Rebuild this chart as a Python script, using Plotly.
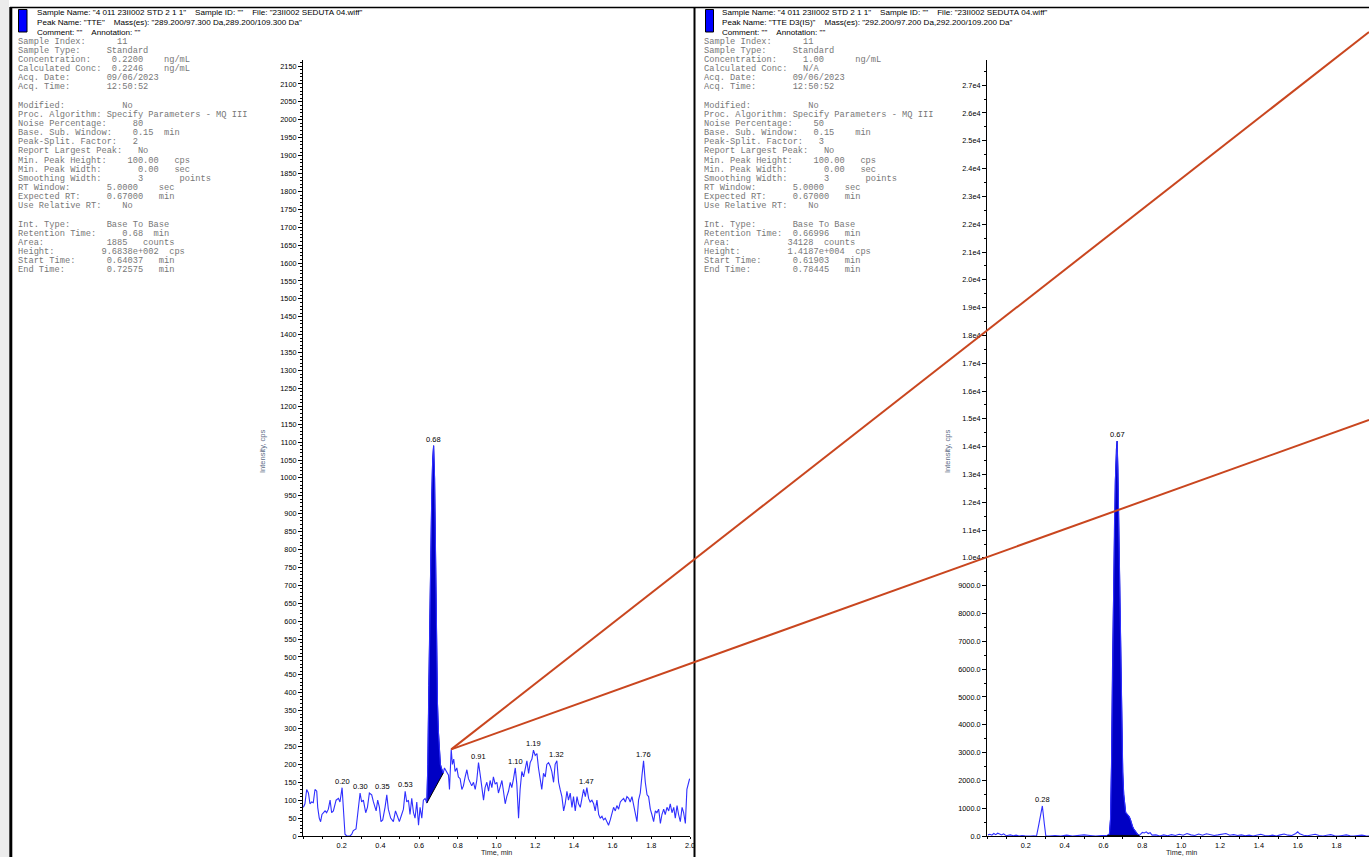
import plotly.graph_objects as go

W, H = 1369, 857

# ---------------- TTE  (289.200/97.300 Da) ----------------
tte_pre_time = [0.002, 0.010, 0.019, 0.028, 0.036, 0.045, 0.053, 0.062, 0.071, 0.076,
                0.084, 0.091, 0.098, 0.105, 0.114, 0.122, 0.131, 0.140, 0.148, 0.157,
                0.171, 0.183, 0.191, 0.202, 0.209, 0.217, 0.226, 0.243, 0.252, 0.260,
                0.274, 0.286, 0.295, 0.303, 0.312, 0.324, 0.333, 0.343, 0.355, 0.364,
                0.378, 0.386, 0.395, 0.403, 0.412, 0.424, 0.433, 0.441, 0.453, 0.467,
                0.478, 0.488, 0.498, 0.510, 0.519, 0.528, 0.536, 0.545, 0.553, 0.562,
                0.571, 0.579, 0.588, 0.597, 0.605, 0.614, 0.622, 0.631]
tte_pre_cps = [80, 90, 130, 120, 90, 95, 93, 130, 125, 80,
               50, 40, 60, 65, 70, 65, 75, 100, 65, 70,
               100, 105, 95, 135, 80, 5, 0, 0, 5, 15,
               20, 80, 120, 95, 100, 65, 80, 120, 115, 95,
               70, 100, 80, 40, 45, 80, 115, 75, 50, 40,
               70, 55, 40, 60, 75, 125, 95, 100, 60, 105,
               65, 50, 95, 30, 80, 50, 100, 105]

tte_peak_time = [0.640, 0.645, 0.650, 0.655, 0.660, 0.665, 0.670, 0.675, 0.680,
                 0.685, 0.690, 0.695, 0.700, 0.705, 0.710, 0.715, 0.720, 0.725]
tte_peak_cps = [92, 200, 420, 640, 800, 940, 1050, 1090, 1000,
                760, 540, 370, 290, 240, 200, 190, 180, 176]

tte_post_time = [0.731, 0.743, 0.752, 0.757, 0.766, 0.772, 0.779, 0.786, 0.795, 0.803,
                 0.812, 0.821, 0.829, 0.838, 0.847, 0.855, 0.864, 0.872, 0.881, 0.890,
                 0.898, 0.907, 0.916, 0.924, 0.933, 0.941, 0.950, 0.959, 0.967, 0.976,
                 0.984, 0.993, 1.002, 1.010, 1.019, 1.028, 1.036, 1.045, 1.053, 1.062,
                 1.071, 1.079, 1.088, 1.097, 1.105, 1.114, 1.122, 1.131, 1.140, 1.148,
                 1.157, 1.166, 1.174, 1.183, 1.191, 1.200, 1.209, 1.217, 1.226, 1.234,
                 1.243, 1.252, 1.260, 1.269, 1.278, 1.286, 1.295, 1.303, 1.312, 1.321,
                 1.329, 1.338, 1.347, 1.355, 1.364, 1.372, 1.381, 1.390, 1.398, 1.407,
                 1.416, 1.424, 1.433, 1.441, 1.450, 1.459, 1.467, 1.476, 1.484, 1.493,
                 1.502, 1.510, 1.519, 1.528, 1.536, 1.545, 1.553, 1.562, 1.571, 1.579,
                 1.588, 1.597, 1.605, 1.614, 1.622, 1.631, 1.640, 1.648, 1.657, 1.666,
                 1.674, 1.683, 1.691, 1.700, 1.709, 1.717, 1.726, 1.734, 1.743, 1.752,
                 1.760, 1.769, 1.778, 1.786, 1.795, 1.803, 1.812, 1.821, 1.829, 1.838,
                 1.847, 1.855, 1.864, 1.872, 1.881, 1.890, 1.898, 1.907, 1.916, 1.924,
                 1.933, 1.941, 1.950, 1.959, 1.967, 1.976, 1.984, 1.998]
tte_post_cps = [190, 180, 170, 130, 242, 200, 215, 180, 190, 165,
                160, 130, 140, 165, 185, 160, 150, 140, 150, 130,
                155, 205, 170, 140, 100, 135, 150, 125, 155, 135,
                165, 145, 150, 120, 135, 155, 125, 90, 110, 125,
                150, 135, 160, 190, 145, 50, 130, 180, 165, 190,
                210, 175, 205, 215, 240, 225, 230, 190, 150, 130,
                175, 165, 200, 205, 195, 180, 150, 200, 210, 150,
                130, 110, 70, 90, 125, 100, 120, 80, 110, 70,
                110, 90, 80, 100, 130, 110, 135, 105, 95, 100,
                90, 70, 100, 60, 50, 55, 45, 50, 40, 30,
                45, 60, 80, 70, 85, 75, 95, 100, 105, 95,
                110, 105, 95, 110, 85, 60, 40, 100, 120, 170,
                210, 150, 115, 110, 75, 60, 40, 70, 65, 75,
                35, 60, 75, 60, 80, 70, 90, 65, 80, 50,
                85, 60, 40, 80, 65, 35, 130, 160]

tte_label_time = [0.202, 0.295, 0.343, 0.528, 0.675, 0.907, 1.097, 1.191, 1.312, 1.467, 1.760]
tte_label_text = ["0.20", "0.30", "0.35", "0.53", "0.68", "0.91", "1.10", "1.19", "1.32", "1.47", "1.76"]
# horizontal nudge (px) for labels that would collide with a neighbour
tte_label_shift = [0, 0, 13, 0, 0, 0, 0, 0, 0, 0, 0]

# ---------------- TTE D3(IS)  (292.200/97.200 Da) ----------------
is_pre_time = [0.005, 0.015, 0.025, 0.035, 0.045, 0.055, 0.065, 0.075, 0.085, 0.095,
               0.105, 0.120, 0.135, 0.150, 0.165, 0.180, 0.195, 0.210, 0.225, 0.240,
               0.255, 0.265, 0.275, 0.285, 0.295, 0.303, 0.320, 0.350, 0.380, 0.410,
               0.440, 0.470, 0.500, 0.530, 0.560, 0.590, 0.610]
is_pre_cps = [40, 60, 30, 90, 50, 100, 70, 40, 80, 30,
              20, 40, 10, 30, 0, 20, 10, 0, 0, 10,
              0, 350, 700, 1080, 450, 0, 0, 20, 0, 30,
              0, 20, 40, 20, 0, 20, 10]

is_peak_time = [0.619, 0.630, 0.636, 0.641, 0.646, 0.651, 0.656, 0.661, 0.666, 0.670,
                0.674, 0.679, 0.684, 0.689, 0.694, 0.699, 0.704, 0.709, 0.714, 0.720,
                0.726, 0.732, 0.738, 0.744, 0.750, 0.756, 0.762, 0.768, 0.774, 0.780,
                0.784]
is_peak_cps = [20, 60, 600, 2500, 6000, 8500, 11000, 12800, 13900, 14200,
               13200, 11000, 8200, 5800, 3800, 2300, 1500, 1100, 850, 800,
               760, 700, 600, 450, 330, 250, 180, 120, 80, 40,
               20]

is_post_time = [0.790, 0.800, 0.810, 0.820, 0.830, 0.840, 0.850, 0.870, 0.890, 0.910,
                0.930, 0.950, 0.970, 0.990, 1.010, 1.030, 1.050, 1.070, 1.090, 1.110,
                1.130, 1.150, 1.170, 1.190, 1.210, 1.230, 1.250, 1.270, 1.290, 1.310,
                1.330, 1.350, 1.370, 1.390, 1.410, 1.430, 1.450, 1.470, 1.490, 1.510,
                1.530, 1.550, 1.570, 1.590, 1.600, 1.610, 1.630, 1.650, 1.670, 1.690,
                1.710, 1.730, 1.750, 1.770, 1.790, 1.810, 1.830, 1.850, 1.870, 1.890,
                1.910, 1.930, 1.950, 1.970, 1.990]
is_post_cps = [60, 130, 110, 150, 90, 120, 30, 40, 0, 40,
               10, 50, 20, 60, 30, 90, 40, 20, 70, 30,
               80, 50, 20, 40, 70, 90, 30, 50, 20, 40,
               10, 30, 0, 40, 60, 20, 10, 30, 0, 40,
               70, 30, 20, 90, 150, 80, 30, 10, 40, 60,
               20, 0, 30, 50, 10, 0, 20, 40, 10, 0,
               20, 30, 10, 0, 20]

is_label_time = [0.285, 0.670]
is_label_text = ["0.28", "0.67"]

# ---------------- axis ticks ----------------
time_ticks = [0.2, 0.4, 0.6, 0.8, 1.0, 1.2, 1.4, 1.6, 1.8, 2.0]
time_tick_text = ["0.2", "0.4", "0.6", "0.8", "1.0", "1.2", "1.4", "1.6", "1.8", "2.0"]
is_cps_ticks = [0, 1000, 2000, 3000, 4000, 5000, 6000, 7000, 8000, 9000,
                10000, 11000, 12000, 13000, 14000, 15000, 16000, 17000, 18000,
                19000, 20000, 21000, 22000, 23000, 24000, 25000, 26000, 27000]
is_cps_tick_text = ["0.0", "1000.0", "2000.0", "3000.0", "4000.0", "5000.0", "6000.0",
                    "7000.0", "8000.0", "9000.0", "1.0e4", "1.1e4", "1.2e4", "1.3e4",
                    "1.4e4", "1.5e4", "1.6e4", "1.7e4", "1.8e4", "1.9e4", "2.0e4",
                    "2.1e4", "2.2e4", "2.3e4", "2.4e4", "2.5e4", "2.6e4", "2.7e4"]

# ---------------- report text ----------------
GAP = "    "
header_left = [
    'Sample Name: "4 011 23II002 STD 2 1 1"' + GAP + 'Sample ID: ""' + GAP + 'File: "23II002 SEDUTA 04.wiff"',
    'Peak Name: "TTE"' + GAP + 'Mass(es): "289.200/97.300 Da,289.200/109.300 Da"',
    'Comment: ""' + GAP + 'Annotation: ""',
]
header_right = [
    'Sample Name: "4 011 23II002 STD 2 1 1"' + GAP + 'Sample ID: ""' + GAP + 'File: "23II002 SEDUTA 04.wiff"',
    'Peak Name: "TTE D3(IS)"' + GAP + 'Mass(es): "292.200/97.200 Da,292.200/109.200 Da"',
    'Comment: ""' + GAP + 'Annotation: ""',
]


def row(label, *cells):
    s = label
    for col, txt in zip(cells[::2], cells[1::2]):
        s = s + " " * max(1, col - len(s)) + txt
    return s


info_left = [
    row("Sample Index:", 19, "11"),
    row("Sample Type:", 17, "Standard"),
    row("Concentration:", 18, "0.2200", 28, "ng/mL"),
    row("Calculated Conc:", 18, "0.2246", 28, "ng/mL"),
    row("Acq. Date:", 17, "09/06/2023"),
    row("Acq. Time:", 17, "12:50:52"),
    "",
    row("Modified:", 20, "No"),
    "Proc. Algorithm: Specify Parameters - MQ III",
    row("Noise Percentage:", 22, "80"),
    row("Base. Sub. Window:", 22, "0.15", 28, "min"),
    row("Peak-Split. Factor:", 22, "2"),
    row("Report Largest Peak:", 23, "No"),
    row("Min. Peak Height:", 21, "100.00", 30, "cps"),
    row("Min. Peak Width:", 23, "0.00", 30, "sec"),
    row("Smoothing Width:", 23, "3", 31, "points"),
    row("RT Window:", 17, "5.0000", 27, "sec"),
    row("Expected RT:", 17, "0.67000", 27, "min"),
    row("Use Relative RT:", 20, "No"),
    "",
    row("Int. Type:", 17, "Base To Base"),
    row("Retention Time:", 20, "0.68", 26, "min"),
    row("Area:", 17, "1885", 24, "counts"),
    row("Height:", 16, "9.6838e+002", 29, "cps"),
    row("Start Time:", 17, "0.64037", 27, "min"),
    row("End Time:", 17, "0.72575", 27, "min"),
]
info_right = [
    row("Sample Index:", 19, "11"),
    row("Sample Type:", 17, "Standard"),
    row("Concentration:", 19, "1.00", 29, "ng/mL"),
    row("Calculated Conc:", 19, "N/A"),
    row("Acq. Date:", 17, "09/06/2023"),
    row("Acq. Time:", 17, "12:50:52"),
    "",
    row("Modified:", 20, "No"),
    "Proc. Algorithm: Specify Parameters - MQ III",
    row("Noise Percentage:", 21, "50"),
    row("Base. Sub. Window:", 21, "0.15", 29, "min"),
    row("Peak-Split. Factor:", 22, "3"),
    row("Report Largest Peak:", 23, "No"),
    row("Min. Peak Height:", 21, "100.00", 30, "cps"),
    row("Min. Peak Width:", 23, "0.00", 30, "sec"),
    row("Smoothing Width:", 23, "3", 31, "points"),
    row("RT Window:", 17, "5.0000", 27, "sec"),
    row("Expected RT:", 17, "0.67000", 27, "min"),
    row("Use Relative RT:", 20, "No"),
    "",
    row("Int. Type:", 17, "Base To Base"),
    row("Retention Time:", 17, "0.66996", 27, "min"),
    row("Area:", 16, "34128", 23, "counts"),
    row("Height:", 16, "1.4187e+004", 29, "cps"),
    row("Start Time:", 17, "0.61903", 27, "min"),
    row("End Time:", 17, "0.78445", 27, "min"),
]

# ---------------- geometry helpers (pixel -> paper) ----------------
def px(x):
    return x / W


def py(y):
    return 1 - y / H


L_DOM = [px(303), px(690)]
R_DOM = [px(987), 1.0]
Y_DOM = [py(836), py(60)]
L_XR = [0, 2.0]
R_XR = [0, (W - 987) / 194.2]
L_YR = [0, 2167]
R_YR = [0, 27904]

TRACE = "#2f2fff"
FILL = "#0000c4"
SANS = "Liberation Sans, Arial, sans-serif"
MONO = "Liberation Mono, Courier New, monospace"

tte_time = tte_pre_time + tte_peak_time + tte_post_time
tte_cps = tte_pre_cps + tte_peak_cps + tte_post_cps
is_time = is_pre_time + is_peak_time + is_post_time
is_cps = is_pre_cps + is_peak_cps + is_post_cps


def nearest(times, values, t):
    i = min(range(len(times)), key=lambda k: abs(times[k] - t))
    return times[i], values[i]


fig = go.Figure()

# integrated peak areas
fig.add_trace(go.Scatter(x=tte_peak_time, y=tte_peak_cps, mode="lines", fill="toself",
                         fillcolor=FILL, line=dict(color=FILL, width=1),
                         xaxis="x", yaxis="y", hoverinfo="skip", showlegend=False))
fig.add_trace(go.Scatter(x=is_peak_time, y=is_peak_cps, mode="lines", fill="toself",
                         fillcolor=FILL, line=dict(color=FILL, width=1),
                         xaxis="x2", yaxis="y2", hoverinfo="skip", showlegend=False))
# chromatograms
fig.add_trace(go.Scatter(x=tte_time, y=tte_cps, mode="lines",
                         line=dict(color=TRACE, width=1.1),
                         xaxis="x", yaxis="y", hoverinfo="skip", showlegend=False))
fig.add_trace(go.Scatter(x=is_time, y=is_cps, mode="lines",
                         line=dict(color=TRACE, width=1.1),
                         xaxis="x2", yaxis="y2", hoverinfo="skip", showlegend=False))
# integration baselines
fig.add_trace(go.Scatter(x=[tte_peak_time[0], tte_peak_time[-1]],
                         y=[tte_peak_cps[0], tte_peak_cps[-1]], mode="lines",
                         line=dict(color="black", width=1),
                         xaxis="x", yaxis="y", hoverinfo="skip", showlegend=False))
fig.add_trace(go.Scatter(x=[is_peak_time[0], is_peak_time[-1]],
                         y=[is_peak_cps[0], is_peak_cps[-1]], mode="lines",
                         line=dict(color="black", width=1),
                         xaxis="x2", yaxis="y2", hoverinfo="skip", showlegend=False))

ann = []
# peak retention-time labels
for t, txt, dx in zip(tte_label_time, tte_label_text, tte_label_shift):
    tx, ty = nearest(tte_time, tte_cps, t)
    ann.append(dict(x=tx, y=ty, xref="x", yref="y", text=txt, showarrow=False,
                    yanchor="bottom", xshift=dx, font=dict(family=SANS, size=7.5, color="black")))
for t, txt in zip(is_label_time, is_label_text):
    tx, ty = nearest(is_time, is_cps, t)
    ann.append(dict(x=tx, y=ty, xref="x2", yref="y2", text=txt, showarrow=False,
                    yanchor="bottom", font=dict(family=SANS, size=7.5, color="black")))

# axis titles
for xc in (262, 947):
    ann.append(dict(x=px(xc), y=py(452), xref="paper", yref="paper", text="Intensity, cps",
                    textangle=-90, showarrow=False, xanchor="center", yanchor="middle",
                    font=dict(family=SANS, size=7.5, color="#5c6b86")))
for xr in ("x", "x2"):
    ann.append(dict(x=1.0, y=py(858.5), xref=xr, yref="paper", text="Time, min",
                    showarrow=False, xanchor="center", yanchor="bottom",
                    font=dict(family=SANS, size=7.2, color="#222222")))

# report headers and parameter blocks (fixed-width, left-aligned boxes)
for lines, x0 in ((header_left, 36), (header_right, 721.5)):
    for k, line in enumerate(lines):
        ann.append(dict(x=px(x0), y=py(12.7 + 9.8 * k), xref="paper", yref="paper",
                        text=line.replace(" ", "\u00a0"), showarrow=False,
                        xanchor="left", yanchor="middle", align="left", width=420,
                        borderpad=0,
                        font=dict(family=SANS, size=8.1, color="black")))
for lines, x0 in ((info_left, 16.5), (info_right, 702.5)):
    for k, line in enumerate(lines):
        if not line:
            continue
        ann.append(dict(x=px(x0), y=py(41.7 + 9.15 * k), xref="paper", yref="paper",
                        text=line.replace(" ", "\u00a0"), showarrow=False,
                        xanchor="left", yanchor="middle", align="left", width=260,
                        borderpad=0,
                        font=dict(family=MONO, size=8.7, color="#777777")))

# leader lines from the 0.77 min feature of the TTE trace
lt, lv = nearest(tte_time, tte_cps, 0.766)
sx = L_DOM[0] + (lt - L_XR[0]) / (L_XR[1] - L_XR[0]) * (L_DOM[1] - L_DOM[0])
sy = Y_DOM[0] + (lv - L_YR[0]) / (L_YR[1] - L_YR[0]) * (Y_DOM[1] - Y_DOM[0])

shapes = [
    dict(type="rect", xref="paper", yref="paper", x0=0, x1=px(9), y0=0, y1=1,
         fillcolor="#ececec", line=dict(width=0), layer="below"),
    dict(type="line", xref="paper", yref="paper", x0=px(10), x1=1, y0=py(7.5), y1=py(7.5),
         line=dict(color="black", width=1.5)),
    dict(type="line", xref="paper", yref="paper", x0=px(10.8), x1=px(10.8), y0=py(7), y1=0,
         line=dict(color="black", width=3)),
    dict(type="line", xref="paper", yref="paper", x0=px(694.5), x1=px(694.5), y0=py(7), y1=0,
         line=dict(color="black", width=2)),
    dict(type="rect", xref="paper", yref="paper", x0=px(18.5), x1=px(27), y0=py(32), y1=py(9.5),
         fillcolor="#0000ff", line=dict(color="black", width=1)),
    dict(type="rect", xref="paper", yref="paper", x0=px(705.5), x1=px(713.5), y0=py(32), y1=py(9.5),
         fillcolor="#0000ff", line=dict(color="black", width=1)),
    dict(type="line", xref="paper", yref="paper", x0=sx, y0=sy, x1=1.0, y1=py(32),
         line=dict(color="#c9461f", width=2)),
    dict(type="line", xref="paper", yref="paper", x0=sx, y0=sy, x1=1.0, y1=py(420),
         line=dict(color="#c9461f", width=2)),
]

tickfont = dict(family=SANS, size=7.3, color="black")
xcommon = dict(showline=True, linecolor="black", linewidth=1, ticks="outside", ticklen=2,
               tickcolor="black", tickfont=tickfont, showgrid=False, zeroline=False,
               tickvals=time_ticks, ticktext=time_tick_text, automargin=False,
               minor=dict(tickmode="linear", tick0=0, dtick=0.1, ticks="outside",
                          ticklen=2, tickcolor="black", showgrid=False),
               fixedrange=True)
ycommon = dict(showline=True, linecolor="black", linewidth=1, ticks="outside", ticklen=4,
               tickcolor="black", tickfont=tickfont, showgrid=False, zeroline=False,
               automargin=False, fixedrange=True)

fig.update_layout(
    width=W, height=H,
    margin=dict(l=0, r=0, t=0, b=0),
    paper_bgcolor="white", plot_bgcolor="white",
    xaxis=dict(domain=L_DOM, range=L_XR, anchor="y", **xcommon),
    yaxis=dict(domain=Y_DOM, range=L_YR, anchor="x", tickmode="linear", tick0=0, dtick=50,
               minor=dict(tickmode="linear", tick0=0, dtick=10, ticks="outside", ticklen=2,
                          tickcolor="black", showgrid=False),
               **ycommon),
    xaxis2=dict(domain=R_DOM, range=R_XR, anchor="y2", **xcommon),
    yaxis2=dict(domain=Y_DOM, range=R_YR, anchor="x2", tickvals=is_cps_ticks,
                ticktext=is_cps_tick_text,
                minor=dict(tickmode="linear", tick0=0, dtick=500, ticks="outside", ticklen=2,
                           tickcolor="black", showgrid=False),
                **ycommon),
    annotations=ann,
    shapes=shapes,
)

fig.write_html("out.html")
